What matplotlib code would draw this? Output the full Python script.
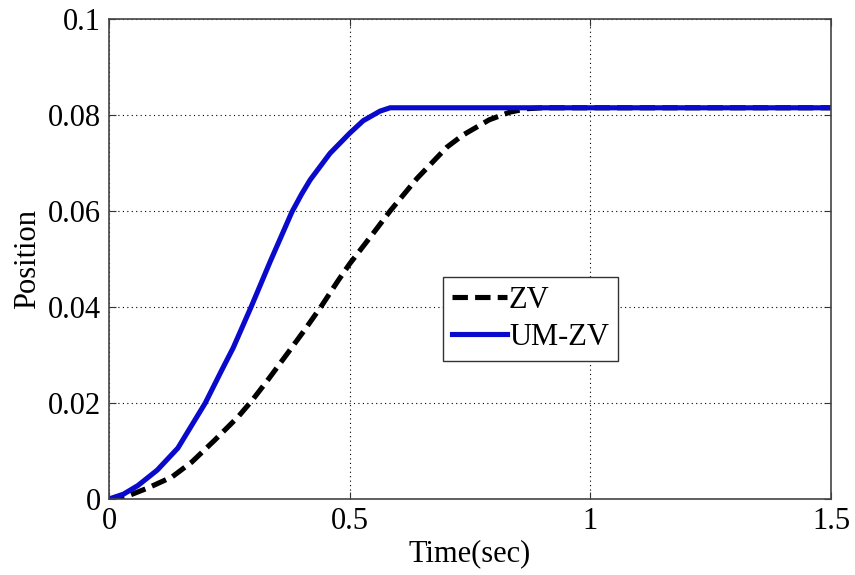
import matplotlib.pyplot as plt

# valores
t_zv = [0, 0.033, 0.081, 0.131, 0.172, 0.22, 0.268, 0.297, 0.33, 0.372, 0.407,
        0.442, 0.476, 0.50, 0.55, 0.584, 0.64, 0.702, 0.735, 0.79, 0.833, 0.868,
        0.90, 1.5]
pos_zv = [0, 0.0004, 0.0023, 0.0046, 0.0077, 0.0123, 0.0171, 0.0205, 0.0248,
          0.0305, 0.0353, 0.0403, 0.0455, 0.049, 0.0555, 0.060, 0.0668, 0.0733,
          0.0758, 0.079, 0.0806, 0.0813, 0.0815, 0.0815]

t_umzv = [0, 0.03, 0.06, 0.10, 0.143, 0.20, 0.235, 0.258, 0.296, 0.335, 0.38,
          0.40, 0.418, 0.459, 0.50, 0.528, 0.563, 0.584, 0.60, 1.5]
pos_umzv = [0, 0.001, 0.0028, 0.006, 0.0106, 0.020, 0.027, 0.0315, 0.0402,
            0.0495, 0.0598, 0.0635, 0.0665, 0.072, 0.0762, 0.0788, 0.0808,
            0.0815, 0.0815, 0.0815]

xticks = [0, 0.5, 1, 1.5]
xticklabels = ['0', '0.5', '1', '1.5']
yticks = [0, 0.02, 0.04, 0.06, 0.08, 0.1]
yticklabels = ['0', '0.02', '0.04', '0.06', '0.08', '0.1']

plt.rcParams['font.family'] = ['Liberation Serif', 'DejaVu Serif']
plt.rcParams['font.size'] = 22

fig = plt.figure(figsize=(8.55, 5.75), dpi=100)
ax = fig.add_axes([0.1275, 0.1322, 0.8445, 0.8348])

ax.plot(t_zv, pos_zv, color='black', linewidth=3.7, linestyle=(0, (3, 1.4)),
        dash_capstyle='butt', label='ZV')
ax.plot(t_umzv, pos_umzv, color='#0a0acc', linewidth=3.7, label='UM-ZV')

ax.set_xlim(0, 1.5)
ax.set_ylim(0, 0.1)
ax.set_xticks(xticks)
ax.set_xticklabels(xticklabels)
ax.set_yticks(yticks)
ax.set_yticklabels(yticklabels)
ax.tick_params(direction='in', top=True, right=True, length=5, pad=6,
               color='#333333')
for s in ax.spines.values():
    s.set_color('#444444')
    s.set_linewidth(1.2)

ax.grid(True, linestyle=(0, (1, 3)), color='black', linewidth=0.8)

ax.set_xlabel('Time(sec)', labelpad=2)
ax.set_ylabel('Position', labelpad=4)

leg = ax.legend(loc='upper left', bbox_to_anchor=(0.463, 0.4625),
                borderaxespad=0, fancybox=False, edgecolor='#333333',
                framealpha=1, handlelength=1.8, handletextpad=0.05,
                borderpad=0.3, labelspacing=0.25, fontsize=22)
leg.get_frame().set_linewidth(1.0)

fig.savefig('out.png', dpi=100)
